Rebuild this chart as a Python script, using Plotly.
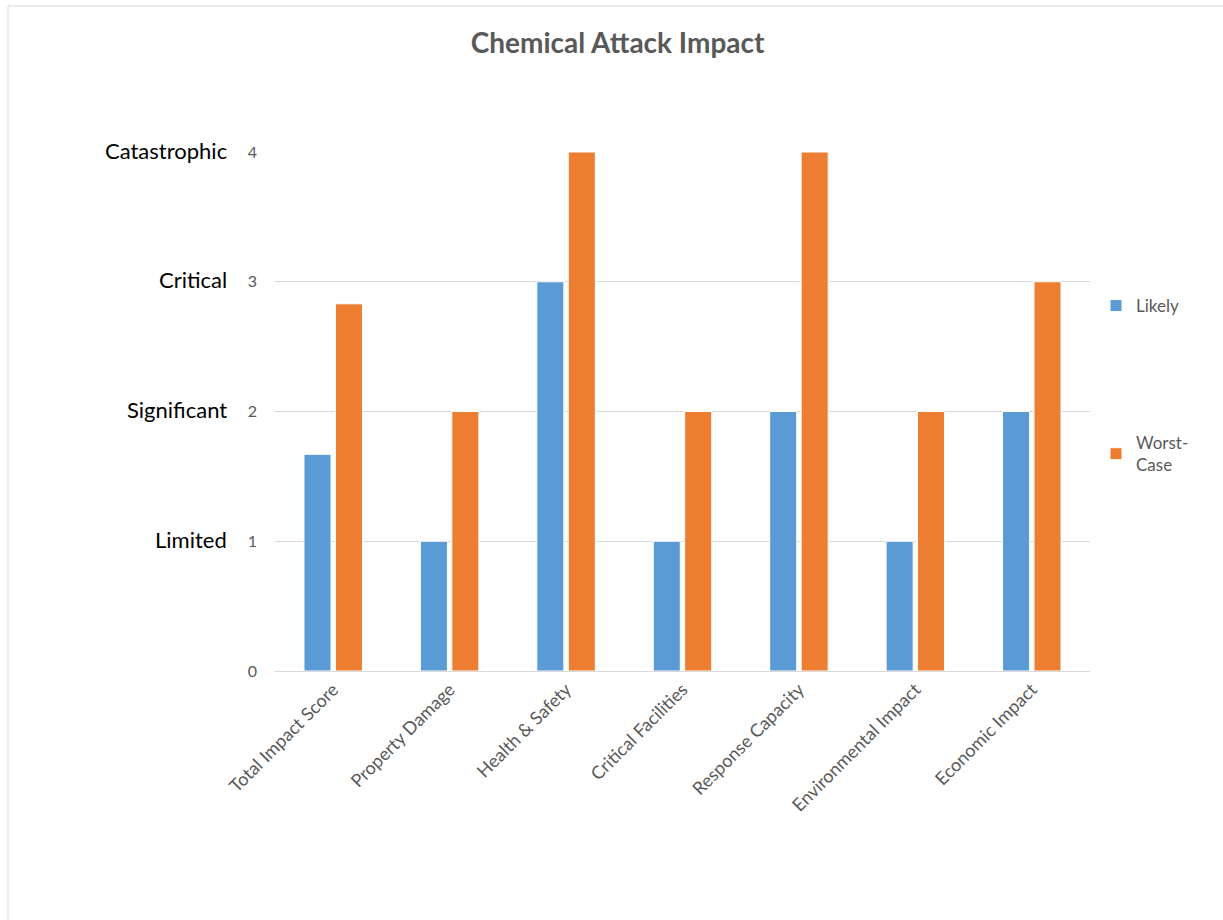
import plotly.graph_objects as go

categories = ["Total Impact Score", "Property Damage", "Health & Safety",
              "Critical Facilities", "Response Capacity",
              "Environmental Impact", "Economic Impact"]
likely = [1.67, 1, 3, 1, 2, 1, 2]
worst_case = [2.83, 2, 4, 2, 4, 2, 3]
level_values = [1, 2, 3, 4]
level_names = ["Limited", "Significant", "Critical", "Catastrophic"]

FONT = "Lato"
W, H = 1223, 920
L, R, T, B = 275, 133, 152, 249
PW, PH = W - L - R, H - T - B


def px_x(px):
    return (px - L) / PW


def px_y(py):
    return (H - B - py) / PH


fig = go.Figure()
fig.add_trace(go.Bar(
    x=categories, y=likely, name="Likely", legendgroup="a",
    marker=dict(color="#5B9BD5", line=dict(color="white", width=1)),
))
fig.add_trace(go.Bar(
    x=categories, y=worst_case, name="Worst-<br>Case", legendgroup="b",
    marker=dict(color="#ED7D31", line=dict(color="white", width=1)),
))

annotations = []
for v, name in zip(level_values, level_names):
    annotations.append(dict(
        x=px_x(229), y=v, xref="paper", yref="y", text=name,
        showarrow=False, xanchor="right", yanchor="middle", yshift=2,
        font=dict(family=FONT, size=22, color="#000000"),
    ))

fig.update_layout(
    width=W, height=H,
    margin=dict(l=L, r=R, t=T, b=B),
    paper_bgcolor="white", plot_bgcolor="white",
    title=dict(text="<b>Chemical Attack Impact</b>", x=0.505, xref="container",
               xanchor="center", y=1 - 43 / H, yref="container", yanchor="middle",
               font=dict(family=FONT, size=28, color="#595959")),
    barmode="group", bargap=0.46, bargroupgap=0.14,
    font=dict(family=FONT, color="#595959"),
    xaxis=dict(tickangle=-45, tickfont=dict(family=FONT, size=18, color="#595959"),
               showline=True, linecolor="#d9d9d9", linewidth=1, ticks="",
               showgrid=False),
    yaxis=dict(range=[0, 4], tickvals=[0, 1, 2, 3, 4], showgrid=True,
               gridcolor="#d9d9d9", gridwidth=1, zeroline=False, showline=False,
               tickfont=dict(family=FONT, size=16, color="#595959"),
               ticklabelstandoff=17),
    legend=dict(x=px_x(1096), y=px_y(288), xanchor="left", yanchor="top",
                font=dict(family=FONT, size=17, color="#595959"),
                tracegroupgap=112, itemwidth=30, traceorder="grouped"),
    annotations=annotations,
    shapes=[
        dict(type="line", xref="paper", yref="paper", x0=px_x(8), x1=px_x(8),
             y0=px_y(6), y1=px_y(930), line=dict(color="#d9d9d9", width=1)),
        dict(type="line", xref="paper", yref="paper", x0=px_x(8), x1=px_x(1230),
             y0=px_y(6), y1=px_y(6), line=dict(color="#d9d9d9", width=1)),
    ],
)

fig.write_html("out.html")
